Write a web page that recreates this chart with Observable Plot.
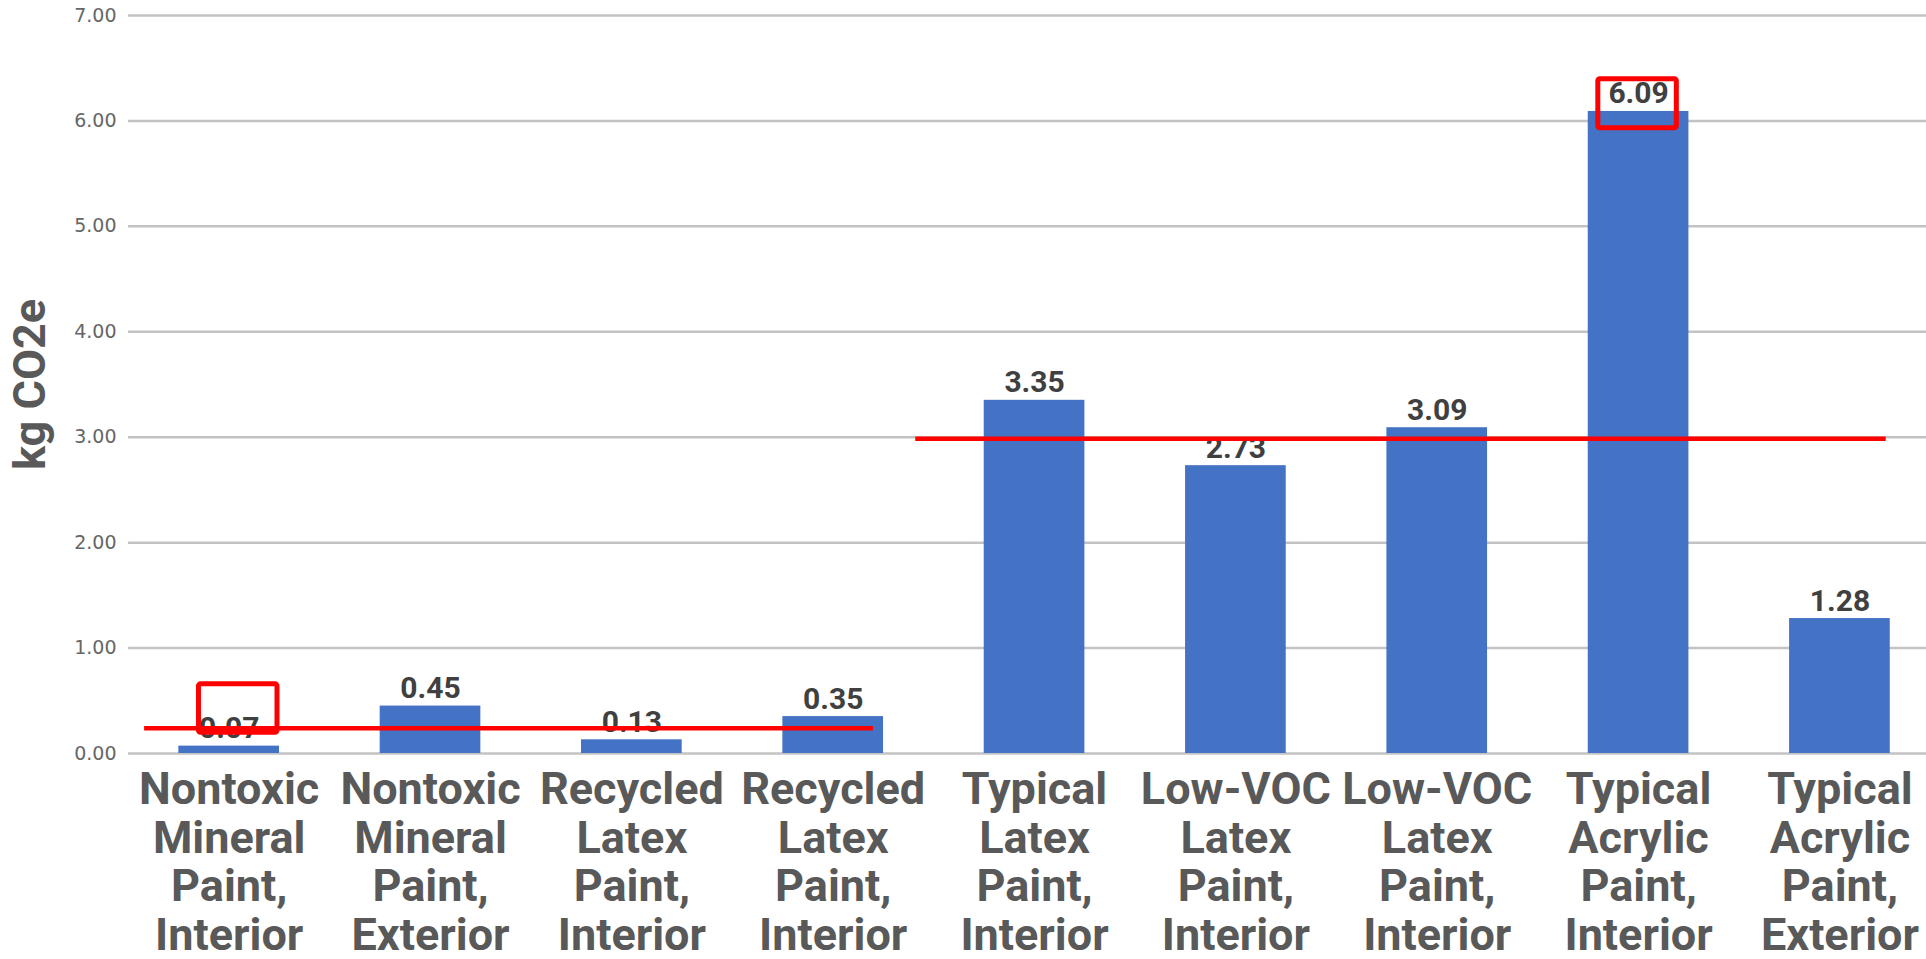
<!DOCTYPE html>
<html>
<head>
<meta charset="utf-8">
<script src="https://cdn.jsdelivr.net/npm/d3@7"></script>
<script src="https://cdn.jsdelivr.net/npm/@observablehq/plot@0.6"></script>
<style>
  html, body { margin: 0; padding: 0; background: #fff; overflow: hidden; }
  #chart svg { display: block; }
</style>
</head>
<body>
<div id="chart"></div>
<script>
// Data
const categories = [
  "Nontoxic Mineral Paint, Interior",
  "Nontoxic Mineral Paint, Exterior",
  "Recycled Latex Paint, Interior",
  "Recycled Latex Paint, Interior",
  "Typical Latex Paint, Interior",
  "Low-VOC Latex Paint, Interior",
  "Low-VOC Latex Paint, Interior",
  "Typical Acrylic Paint, Interior",
  "Typical Acrylic Paint, Exterior"
];
const values = [0.07, 0.45, 0.13, 0.35, 3.35, 2.73, 3.09, 6.09, 1.28];
const yTicks = [0, 1, 2, 3, 4, 5, 6, 7];
const yLabel = "kg CO2e";

// Red hand-drawn annotations (data units: category index, kg CO2e)
const annoLineLevel = [0.24, 2.985];
const annoLineFrom = [-0.42, 3.41];
const annoLineTo = [3.2, 8.23];
const annoBoxX1 = [-0.15, 6.80];
const annoBoxX2 = [0.24, 7.19];
const annoBoxY1 = [0.196, 5.93];
const annoBoxY2 = [0.656, 6.395];

const bars = values.map((v, i) => ({i, v, name: categories[i]}));
const lines = annoLineLevel.map((y, k) => ({y, x1: annoLineFrom[k], x2: annoLineTo[k]}));
const boxes = annoBoxX1.map((x1, k) => ({x1, x2: annoBoxX2[k], y1: annoBoxY1[k], y2: annoBoxY2[k]}));

const halfBar = 0.25;

const chart = Plot.plot({
  width: 1926,
  height: 959,
  marginLeft: 128,
  marginRight: 0,
  marginTop: 15,
  marginBottom: 206,
  style: {background: "#fff", overflow: "visible"},
  x: {type: "linear", domain: [-0.5, 8.43]},
  y: {domain: [0, 7]},
  marks: [
    Plot.ruleY(yTicks, {stroke: "#c3c3c3", strokeWidth: 2.5}),
    Plot.rectY(bars, {x1: d => d.i - halfBar, x2: d => d.i + halfBar, y: "v", fill: "#4472c4"}),
    Plot.text(bars, {
      x: "i", y: "v", text: d => d.v.toFixed(2),
      dy: -8, lineAnchor: "bottom",
      fontSize: 30, fontWeight: "bold", fontFamily: "Roboto, 'Liberation Sans', Arial, sans-serif",
      fill: "#404040"
    }),
    Plot.axisY({
      ticks: yTicks, tickFormat: d => d.toFixed(2), tickSize: 0, tickPadding: 12,
      fontSize: 19, fontFamily: "'DejaVu Sans', sans-serif", fill: "#666", label: null
    }),
    Plot.axisX({
      ticks: d3.range(categories.length),
      tickFormat: i => categories[i].split(" ").join("\n"),
      tickSize: 0, tickPadding: 16,
      fontSize: 45, fontWeight: "bold", lineHeight: 1.08,
      fontFamily: "Roboto, 'Liberation Sans', Arial, sans-serif",
      fill: "#595959", label: null
    }),
    Plot.text([yLabel], {
      frameAnchor: "left", textAnchor: "middle", rotate: -90, dx: -98,
      fontSize: 45, fontWeight: "bold",
      fontFamily: "Roboto, 'Liberation Sans', Arial, sans-serif",
      fill: "#595959"
    }),
    Plot.ruleY(lines, {y: "y", x1: "x1", x2: "x2", stroke: "#ff0000", strokeWidth: 4.5}),
    Plot.rect(boxes, {x1: "x1", x2: "x2", y1: "y1", y2: "y2", fill: "none", stroke: "#ff0000", strokeWidth: 5, rx: 2})
  ]
});

document.getElementById("chart").appendChild(chart);
</script>
</body>
</html>
